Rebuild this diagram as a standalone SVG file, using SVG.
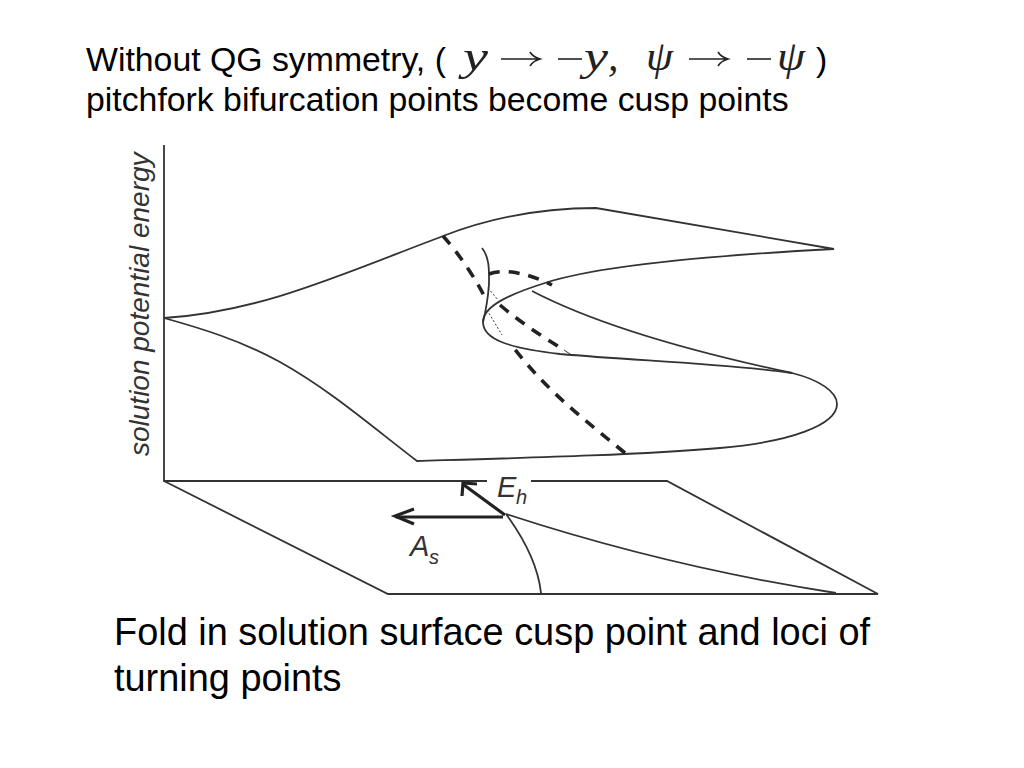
<svg xmlns="http://www.w3.org/2000/svg" width="1024" height="768" viewBox="0 0 1024 768">
<style>
.t{font-family:"Liberation Sans",Arial,sans-serif;fill:#000}
.h{font-size:33.8px}
.b{font-size:37.9px}
.m{font-family:"Liberation Serif",serif;font-style:italic;font-size:42px;fill:#222}
.l{font-family:"Liberation Sans",Arial,sans-serif;font-style:italic;fill:#333}
.c{fill:none;stroke:#333;stroke-width:1.8}
.d{fill:none;stroke:#222;stroke-width:3.6;stroke-dasharray:11 9}
.a{fill:none;stroke:#222;stroke-width:3.2}
.f{fill:none;stroke:#222;stroke-width:1.6}
</style>
<rect width="1024" height="768" fill="#fff"/>
<g id="title">
<text class="t h" x="86" y="71">Without QG symmetry, (</text>
<text class="t h" x="86" y="111">pitchfork bifurcation points become cusp points</text>
<text class="t h" x="816" y="71">)</text>
</g>
<g id="formula">
<text class="m" x="463" y="70" textLength="25" lengthAdjust="spacingAndGlyphs">y</text>
<path class="f" d="M501 59H539M530 52Q533 57 540 59Q533 61 530 66"/>
<path class="f" d="M558 59H582"/>
<text class="m" x="584" y="70" textLength="24" lengthAdjust="spacingAndGlyphs">y</text>
<text class="m" x="608" y="70">,</text>
<text class="m" x="646" y="70" textLength="27" lengthAdjust="spacingAndGlyphs">ψ</text>
<path class="f" d="M689 59H727M718 52Q721 57 728 59Q721 61 718 66"/>
<path class="f" d="M747 59H771"/>
<text class="m" x="777" y="70" textLength="28" lengthAdjust="spacingAndGlyphs">ψ</text>
</g>
<g id="caption">
<text class="t b" x="114" y="645">Fold in solution surface cusp point and loci of</text>
<text class="t b" x="114" y="691">turning points</text>
</g>
<g id="axis-label">
<text class="l" font-size="28" transform="translate(149 456) rotate(-90)">solution potential energy</text>
</g>
<g id="connectors">
<path class="c" d="M164 145V481H667L878 594H388L164 481"/>
<path class="c" d="M164 318C260 312 340 275 443 236C500 214 550 208 596 208L834 249C720 255 600 265 545 283C510 294 483 306 483 322C483 340 510 348 560 354C640 361 720 363 792 373C820 380 837 392 837 404C837 425 790 442 720 448C640 455 520 458 417 461C370 425 330 390 280 362C240 340 200 328 164 318"/>
<path class="c" d="M532 291C580 316 660 345 792 373"/>
<path class="c" d="M482 248C490 258 489 272 489 284C488 298 486 310 483 322"/>
<path fill="none" stroke="#333" stroke-width="1" stroke-dasharray="2 2" d="M488 288L498 300M487 310L502 335"/>
<path class="d" d="M443 236C460 255 478 282 487 302"/>
<path class="d" d="M625 453C585 420 545 390 510 343"/>
<path class="d" d="M489 274C505 268 530 274 552 285"/>
<path class="d" d="M500 305C520 322 540 335 564 350"/>
<path d="M564 350L573 356" fill="none" stroke="#333" stroke-width="1"/>
<path class="c" d="M506 514C610 548 720 575 836 593"/>
<path class="c" d="M506 514C525 540 538 565 541 593"/>
</g>
<g id="bottom-labels">
<rect x="487" y="470" width="44" height="24" fill="#fff"/>
<path class="a" d="M505 515L464 485M503 517H396"/>
<path class="a" d="M462 496L463 483L477 484M414 509L395 516L414 524"/>
<text class="l" font-size="29" x="497" y="497">E</text>
<text class="l" font-size="20" x="516" y="504">h</text>
<text class="l" font-size="29" x="410" y="556">A</text>
<text class="l" font-size="20" x="429" y="564">s</text>
</g>
</svg>
